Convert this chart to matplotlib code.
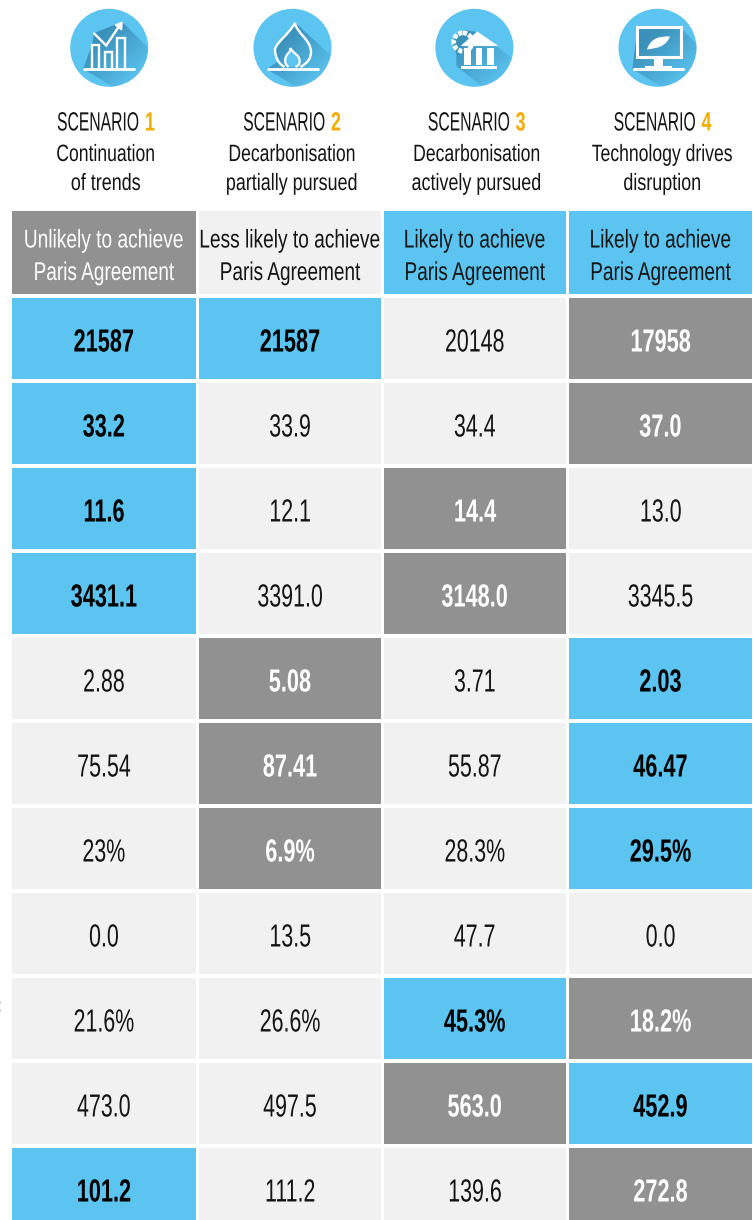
import numpy as np
import matplotlib
matplotlib.use('Agg')
import matplotlib.pyplot as plt
from matplotlib.patches import Circle, Rectangle, Polygon, PathPatch
from matplotlib.path import Path
from matplotlib.patheffects import AbstractPathEffect
from matplotlib.text import Text
from matplotlib.transforms import Affine2D, Bbox

plt.rcParams['font.family'] = ['Liberation Sans', 'DejaVu Sans']

BLUE = '#5bc4f1'
GREY = '#919191'
LIGHT = '#f1f1f1'
ORANGE = '#f6ab00'
INK = '#141414'

scenarios = ['1', '2', '3', '4']
line1 = ['Continuation', 'Decarbonisation', 'Decarbonisation', 'Technology drives']
line2 = ['of trends', 'partially pursued', 'actively pursued', 'disruption']
header_top = ['Unlikely to achieve', 'Less likely to achieve', 'Likely to achieve', 'Likely to achieve']
header_bottom = ['Paris Agreement'] * 4
header_state = ['g', 'n', 'b', 'b']

values = [
    ['21587', '21587', '20148', '17958'],
    ['33.2', '33.9', '34.4', '37.0'],
    ['11.6', '12.1', '14.4', '13.0'],
    ['3431.1', '3391.0', '3148.0', '3345.5'],
    ['2.88', '5.08', '3.71', '2.03'],
    ['75.54', '87.41', '55.87', '46.47'],
    ['23%', '6.9%', '28.3%', '29.5%'],
    ['0.0', '13.5', '47.7', '0.0'],
    ['21.6%', '26.6%', '45.3%', '18.2%'],
    ['473.0', '497.5', '563.0', '452.9'],
    ['101.2', '111.2', '139.6', '272.8'],
]
states = ['bbng', 'bnng', 'bngn', 'bngn', 'ngnb', 'ngnb', 'ngnb',
          'nnnn', 'nnbg', 'nngb', 'bnng']

col_left = [12, 199, 384, 569]
col_right = [195.7, 381, 565.5, 752]
row_top = [297.5 + 85 * k for k in range(11)]
row_h = 81.5
icon_x = [109.2, 292.5, 474.4, 657.5]
icon_y = 47.8
icon_r = 39
fills = {'b': BLUE, 'g': GREY, 'n': LIGHT}


class Squeeze(AbstractPathEffect):
    # narrow the glyphs about their own centre, no condensed font is installed
    def __init__(self, sx):
        super().__init__()
        self.sx = sx

    def draw_path(self, renderer, gc, tpath, affine, rgbFace=None):
        box = tpath.get_extents(affine)
        mid = (box.x0 + box.x1) / 2
        new = affine + Affine2D().translate(-mid, 0).scale(self.sx, 1).translate(mid, 0)
        renderer.draw_path(gc, tpath, new, rgbFace)


class NarrowText(Text):
    # reports the squeezed width so extents agree with what is drawn
    def __init__(self, *args, sx=1.0, **kwargs):
        super().__init__(*args, **kwargs)
        self.sx = sx
        self.set_path_effects([Squeeze(sx)])

    def get_window_extent(self, renderer=None, dpi=None):
        box = super().get_window_extent(renderer, dpi)
        mid = (box.x0 + box.x1) / 2
        half = box.width * self.sx / 2
        return Bbox.from_extents(mid - half, box.y0, mid + half, box.y1)


def label(x, y, s, size, sx, color=INK, weight='normal'):
    t = NarrowText(x, y, s, sx=sx, fontsize=size, ha='center', va='baseline', color=color, fontweight=weight)
    ax.add_artist(t)
    return t


fig = plt.figure(figsize=(7.54, 12.2), dpi=100)
ax = fig.add_axes([0, 0, 1, 1])
ax.set_xlim(0, 754)
ax.set_ylim(1220, 0)
ax.axis('off')


def shadow(cx, pts):
    # long shadow fading towards the lower right, kept inside the circle
    n = 160
    xs = np.linspace(-icon_r, icon_r, n)
    gx, gy = np.meshgrid(xs, xs)
    img = np.zeros((n, n, 4))
    img[..., :3] = matplotlib.colors.to_rgb('#2f7fa6')
    fade = np.clip(0.75 - (gx + gy + 20) / 110, 0, 0.75)
    img[..., 3] = fade * (gx**2 + gy**2 <= (icon_r - 0.3)**2)
    im = ax.imshow(img, extent=(cx - icon_r, cx + icon_r, icon_y + icon_r, icon_y - icon_r),
                   aspect='auto', zorder=2, interpolation='bilinear')
    poly = Polygon(pts, transform=ax.transData, fc='none', ec='none')
    ax.add_patch(poly)
    im.set_clip_path(poly)


def stroke(xs, ys, lw=1.7):
    ax.plot(xs, ys, color='white', lw=lw, zorder=4, solid_capstyle='round', solid_joinstyle='miter')


def icon_chart(cx):
    shadow(cx, [(cx-15, 33), (cx+13, 22), (cx+60, 69), (cx+26, 100), (cx-26, 69), (cx-17, 44)])
    for x0, x1, top in [(-17, -10, 44.5), (-4, 3, 51.5), (8, 15.5, 38)]:
        stroke([cx+x0, cx+x0, cx+x1, cx+x1], [68, top, top, 68])
    stroke([cx-25.5, cx+24.5], [68.5, 68.5], 2)
    stroke([cx-15, cx-3, cx+10], [33.5, 45.5, 26])
    ax.add_patch(Polygon([(cx+6, 25), (cx+13, 22), (cx+12.5, 30)], fc='white', ec='white', lw=0.8, zorder=4))


def icon_flame(cx):
    shadow(cx, [(cx+3, 23), (cx+60, 75), (cx+26, 100), (cx-26, 69), (cx-15, 62), (cx-18, 50)])
    verts = [(cx-8, 67), (cx-15, 63), (cx-17.5, 56), (cx-17.5, 49), (cx-15, 41), (cx-5, 36), (cx+2.5, 23),
             (cx+4, 33), (cx+18, 39), (cx+18.5, 52), (cx+18.5, 60), (cx+13, 64), (cx+8, 67)]
    codes = [Path.MOVETO] + [Path.CURVE4] * 12
    ax.add_patch(PathPatch(Path(verts, codes), fc='none', ec='white', lw=1.7, zorder=4))
    inner = [(cx-4, 67), (cx-9, 63), (cx-8, 57), (cx-4, 53), (cx-2, 51), (cx-2, 49), (cx-2, 48),
             (cx, 53), (cx+7, 55), (cx+7, 60), (cx+8, 64), (cx+5, 66), (cx+3, 67)]
    ax.add_patch(PathPatch(Path(inner, codes), fc=BLUE, ec='white', lw=1.6, zorder=4))
    stroke([cx-25, cx+25], [68.5, 68.5], 2)


def icon_bank(cx):
    shadow(cx, [(cx-22, 41), (cx-11, 30), (cx+3, 32), (cx+60, 75), (cx+24, 100), (cx-18, 66), (cx-18, 55)])
    ax.add_patch(Circle((cx-11.5, 42), 9.2, fc='none', ec='white', lw=3.4, ls=(0, (0.9, 0.35)), zorder=3))
    ax.add_patch(Polygon([(cx-12.8, 45.7), (cx+2.8, 32), (cx+22.8, 45.7)], fc='white', ec='white', lw=0.6, zorder=4))
    for x0, x1 in [(-10, -3), (1.5, 7.5), (13, 20)]:
        ax.add_patch(Rectangle((cx+x0, 48), x1-x0, 17, fc='white', ec='none', zorder=4))
    ax.add_patch(Rectangle((cx-13.5, 65.7), 36, 3.4, fc='white', ec='none', zorder=4))


def icon_screen(cx):
    shadow(cx, [(cx-20, 27), (cx+22, 27), (cx+60, 65), (cx+26, 100), (cx-25, 69)])
    ax.add_patch(Rectangle((cx-21, 26.8), 44, 30, fc='none', ec='white', lw=2.2, zorder=4))
    ax.add_patch(Rectangle((cx-3.5, 57), 8.5, 10, fc='white', ec='none', zorder=4))
    ax.add_patch(Rectangle((cx-13, 66), 27, 2, fc='white', ec='none', zorder=4))
    stroke([cx-24, cx+25], [68.5, 68.5], 2.2)
    leaf = [(cx-10.5, 49.5), (cx-7, 38), (cx+2, 36), (cx+12.5, 36.5), (cx+8, 47), (cx, 48), (cx-10.5, 49.5)]
    codes = [Path.MOVETO] + [Path.CURVE4] * 6
    ax.add_patch(PathPatch(Path(leaf, codes), fc='white', ec='none', zorder=4))


for i, draw in enumerate([icon_chart, icon_flame, icon_bank, icon_screen]):
    ax.add_patch(Circle((icon_x[i], icon_y), icon_r, fc=BLUE, ec='none', zorder=1))
    draw(icon_x[i])

# cropped leftovers at the left edge of the source image
for y in [1001, 1008.5]:
    ax.add_patch(Rectangle((0, y), 1.3, 3, fc='#d4d4d4', ec='none'))

renderer = fig.canvas.get_renderer()
for i in range(4):
    cx = (col_left[i] + col_right[i]) / 2

    # scenario title is two pieces of text, black word and orange number
    t1 = label(0, 130.5, 'SCENARIO', 19, 0.595)
    t2 = label(0, 130.5, scenarios[i], 19, 0.68, ORANGE, 'bold')
    w1 = t1.get_window_extent(renderer).width
    w2 = t2.get_window_extent(renderer).width
    gap = 6
    left = cx + 2 - (w1 + gap + w2) / 2
    t1.set_x(left + w1 / 2)
    t2.set_x(left + w1 + gap + w2 / 2)
    label(cx + 2, 161, line1[i], 17, 0.745)
    label(cx + 2, 190, line2[i], 17, 0.76)

    ax.add_patch(Rectangle((col_left[i], 211), col_right[i]-col_left[i], 83.3,
                           fc=fills[header_state[i]], ec='none'))
    hc = 'white' if header_state[i] == 'g' else INK
    label(cx, 247.5, header_top[i], 18.5, 0.745, hc)
    label(cx, 280, header_bottom[i], 18.5, 0.74, hc)

    for r in range(len(values)):
        s = states[r][i]
        bot = min(row_top[r] + row_h, 1220)
        ax.add_patch(Rectangle((col_left[i], row_top[r]), col_right[i]-col_left[i], bot-row_top[r],
                               fc=fills[s], ec='none'))
        if s == 'n':
            label(cx, row_top[r] + 54, values[r][i], 23, 0.67)
        else:
            label(cx, row_top[r] + 54, values[r][i], 23, 0.68, 'white' if s == 'g' else 'black', 'bold')

ax.set_xlim(0, 754)
ax.set_ylim(1220, 0)
fig.savefig('out.png', dpi=100)
